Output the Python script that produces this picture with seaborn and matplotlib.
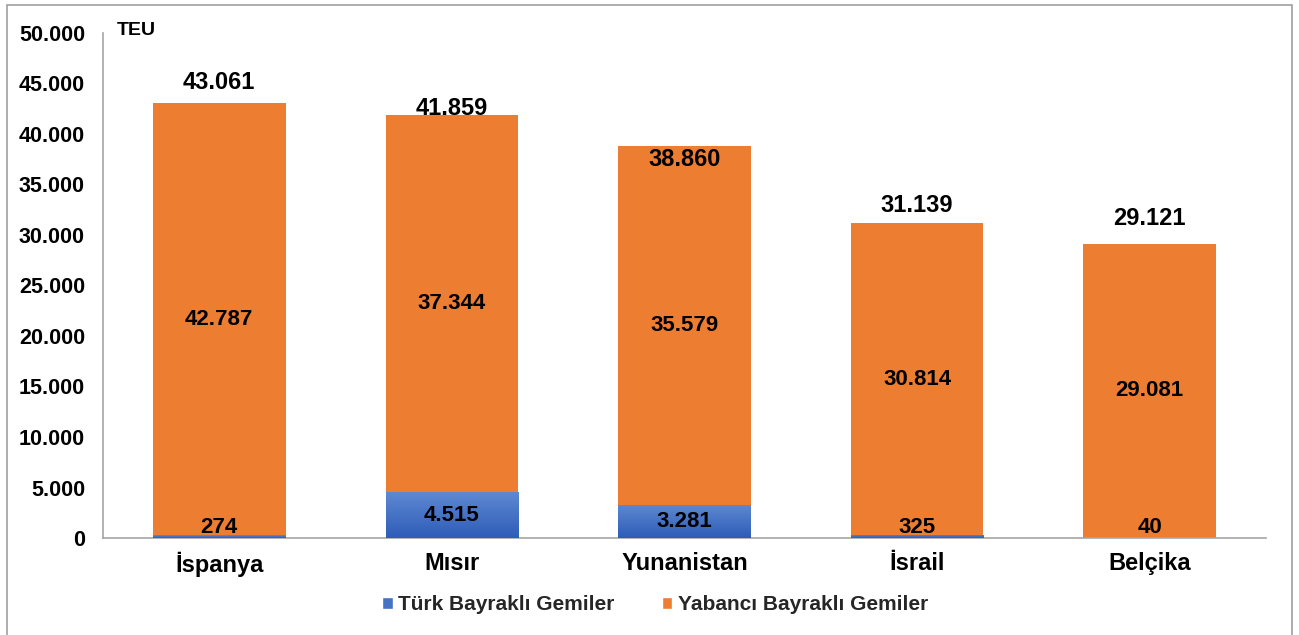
import numpy as np
import pandas as pd
import matplotlib
matplotlib.use("Agg")
import matplotlib.pyplot as plt
import seaborn as sns
from matplotlib.patches import Rectangle
from matplotlib.colors import LinearSegmentedColormap

# ---- data ----
categories = ["İspanya", "Mısır", "Yunanistan", "İsrail", "Belçika"]
turk = [274, 4515, 3281, 325, 40]
yabanci = [42787, 37344, 35579, 30814, 29081]
series_names = ["Türk Bayraklı Gemiler", "Yabancı Bayraklı Gemiler"]
yticks = [0, 5000, 10000, 15000, 20000, 25000, 30000, 35000, 40000, 45000, 50000]
ytick_labels = ["0", "5.000", "10.000", "15.000", "20.000", "25.000",
                "30.000", "35.000", "40.000", "45.000", "50.000"]
# vertical offsets (points) of the total labels as placed in the original
total_label_offsets = [15, 5, -10, 13, 18]

totals = [a + b for a, b in zip(turk, yabanci)]

def fmt(v):
    return f"{v:,}".replace(",", ".")

sns.set_theme(style="white")
plt.rcParams["font.family"] = ["Liberation Sans", "DejaVu Sans"]
plt.rcParams["font.weight"] = "bold"

fig = plt.figure(figsize=(12.99, 6.35), dpi=100)
fig.patch.set_facecolor("white")
ax = fig.add_axes([103 / 1299, 1 - 538 / 635, (1266 - 103) / 1299, (538 - 33) / 635])

orange = "#ED7D31"
blue = "#4472C4"

df = pd.DataFrame({"cat": categories, "turk": turk, "yabanci": yabanci, "total": totals})

sns.barplot(data=df, x="cat", y="total", color=orange, saturation=1, width=0.57,
            ax=ax, zorder=2, label=series_names[1], linewidth=0)
n_orange = len(ax.patches)
sns.barplot(data=df, x="cat", y="turk", color=blue, saturation=1, width=0.57,
            ax=ax, zorder=3, label=series_names[0], linewidth=0)
blue_patches = ax.patches[n_orange:]
orange_patches = ax.patches[:n_orange]

# gradient on the blue segments
cmap = LinearSegmentedColormap.from_list("bg", ["#2E5DB8", "#5E88D2"])
grad = np.linspace(0, 1, 64).reshape(-1, 1)
for p in blue_patches:
    x0, y0 = p.get_x(), p.get_y()
    w, h = p.get_width(), p.get_height()
    im = ax.imshow(grad, extent=[x0, x0 + w, y0, y0 + h], origin="lower",
                   cmap=cmap, aspect="auto", zorder=3.5)
    im.set_clip_path(p)

ax.set_xlim(-0.5, len(categories) - 0.5)
ax.set_ylim(0, 50000)
ax.set_yticks(yticks)
ax.set_yticklabels(ytick_labels)
ax.set_xlabel("")
ax.set_ylabel("")
ax.tick_params(axis="y", length=0, pad=13, labelsize=15.5)
ax.tick_params(axis="x", length=0, pad=10, labelsize=17)
for lbl in ax.get_xticklabels() + ax.get_yticklabels():
    lbl.set_fontweight("bold")
    lbl.set_color("black")

for s in ["top", "right"]:
    ax.spines[s].set_visible(False)
for s in ["left", "bottom"]:
    ax.spines[s].set_color("#A6A6A6")
    ax.spines[s].set_linewidth(1.2)

# labels
for i, p in enumerate(orange_patches):
    cx = p.get_x() + p.get_width() / 2
    # total on top
    ax.annotate(fmt(totals[i]), (cx, totals[i]), xytext=(0, total_label_offsets[i]),
                textcoords="offset points", ha="center", va="center",
                fontsize=17, fontweight="bold", color="black", zorder=5)
    # foreign segment center
    ax.text(cx, turk[i] + yabanci[i] / 2, fmt(yabanci[i]), ha="center", va="center",
            fontsize=16, fontweight="bold", color="black", zorder=5)
    # turkish segment
    if turk[i] > 2000:
        ax.text(cx, turk[i] / 2, fmt(turk[i]), ha="center", va="center",
                fontsize=16, fontweight="bold", color="black", zorder=5)
    else:
        ax.text(cx, 0, fmt(turk[i]), ha="center", va="bottom",
                fontsize=16, fontweight="bold", color="black", zorder=5)

# TEU unit label
ax.annotate("TEU", (0.012, 1.0), xycoords="axes fraction", xytext=(0, 2),
            textcoords="offset points", ha="left", va="center",
            fontsize=14, fontweight="bold", color="black")

# legend
leg_handles = [Rectangle((0, 0), 1, 1, facecolor=blue), Rectangle((0, 0), 1, 1, facecolor=orange)]
if ax.get_legend() is not None:
    ax.get_legend().remove()
fig.legend(leg_handles, series_names, loc="center", bbox_to_anchor=(655 / 1299, 1 - 605 / 635),
           ncol=2, frameon=False, handlelength=0.5, handleheight=0.5, handletextpad=0.25,
           columnspacing=2.3, prop={"weight": "bold", "size": 15})

# figure border
fig.patches.append(Rectangle((7 / 1299, -0.01), (1292 - 7) / 1299, 1 - 5 / 635 + 0.01,
                             transform=fig.transFigure, fill=False,
                             edgecolor="#A0A0A0", linewidth=1.2))

fig.savefig("out.png", dpi=100)
